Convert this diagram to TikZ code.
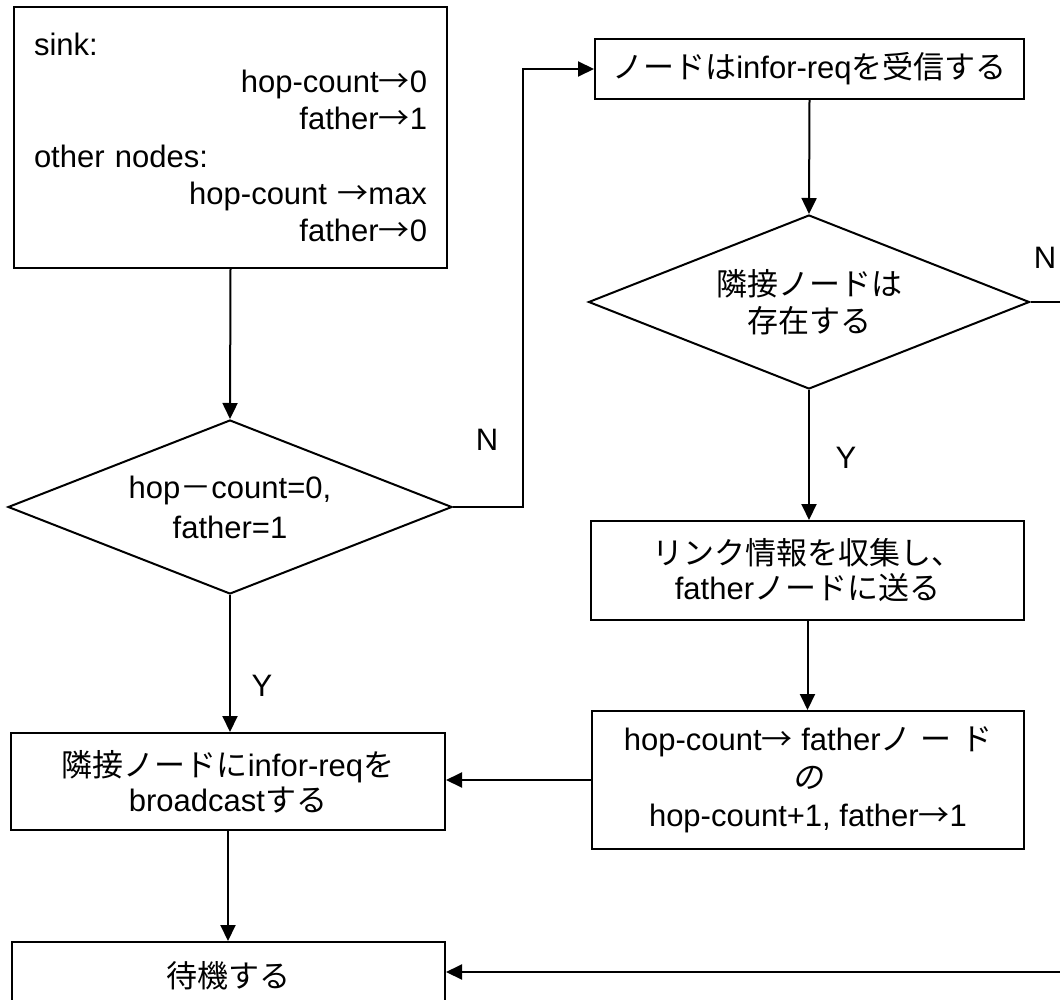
\documentclass[tikz,border=0pt]{standalone}
\usepackage{fontspec}
\setmainfont{Liberation Sans}
\newfontfamily\cjk{Noto Sans CJK JP}
\newfontfamily\cjkit[FakeSlant=0.2]{Noto Sans CJK JP}
\newcommand\J[1]{{\cjk #1}}
\usetikzlibrary{shapes.geometric,arrows.meta}
\begin{document}
\begin{tikzpicture}[x=1pt,y=-1pt,
  txt/.style={font=\fontsize{31}{37}\selectfont},
  box/.style={txt, draw, line width=2pt, align=center, inner sep=0pt},
  decision/.style={txt, draw, diamond, aspect=3, line width=2pt, align=center, inner sep=0pt},
  line/.style={line width=2pt},
  arr/.style={line width=2pt, -{Triangle[length=16pt,width=15pt]}},
  lab/.style={font=\fontsize{31}{36}\selectfont}
]
\clip (0,0) rectangle (1060,1000);
\fill[white] (0,0) rectangle (1060,1000);

\node[box, align=left, text width=393pt, inner xsep=20pt, minimum width=433pt, minimum height=261pt,
      font=\fontsize{31}{37.3}\selectfont] (init) at (230.5,137.5)
  {sink:\\
   \hspace*{\fill}hop-count\J{→}0\\
   \hspace*{\fill}father\J{→}1\\
   other nodes:\\
   \hspace*{\fill}hop-count \J{→}max\\
   \hspace*{\fill}father\J{→}0};

\node[decision, minimum width=444pt, minimum height=174pt, font=\fontsize{31}{40}\selectfont] (d1) at (230,507)
  {hop\J{－}count=0,\\father=1};

\node[box, minimum width=429pt, minimum height=60pt] (recv) at (809.5,69)
  {\J{ノードは}infor-req\J{を受信する}};

\node[decision, minimum width=441pt, minimum height=174pt] (d2) at (809,302)
  {\J{隣接ノードは}\\\J{存在する}};

\node[box, minimum width=433pt, minimum height=99pt, font=\fontsize{31}{35}\selectfont] (collect) at (807.5,570.5)
  {\J{リンク情報を収集し、}\\father\J{ノードに送る}};

\node[box, minimum width=432pt, minimum height=138pt, font=\fontsize{31}{38}\selectfont] (upd) at (808,780)
  {hop-count\J{→} father\J{ノ\hspace{0.3em}ー\hspace{0.3em}ド}\\{\cjkit の}\\hop-count+1, father\J{→}1};

\node[box, minimum width=434pt, minimum height=97pt, font=\fontsize{31}{35}\selectfont] (bcast) at (228,781.5)
  {\J{隣接ノードに}infor-req\J{を}\\broadcast\J{する}};

\node[box, minimum width=433pt, minimum height=80pt] (wait) at (228.5,982)
  {\raisebox{15pt}{\J{待機する}}};

\coordinate (eN) at (1060,302);
\coordinate (eW) at (1060,972);

\draw[arr] (init.south) -- (d1.north);
\draw[arr] (d1.east) -- ++(70,0) |- (recv.west);
\draw[arr] (recv.south) -- (d2.north);
\draw[line] (d2.east) -- (eN);
\draw[arr] (d2.south) -- (d2.south |- collect.north);
\draw[arr] (collect.south) -- (collect.south |- upd.north);
\draw[arr] (upd.west) -- (upd.west -| bcast.east);
\draw[arr] (d1.south) -- (d1.south |- bcast.north);
\draw[arr] (bcast.south) -- (bcast.south |- wait.north);
\draw[arr] (eW) -- (wait.east |- eW);

\node[lab] (n1) at (487,440) {N};
\node[lab] (y1) at (262,686) {Y};
\node[lab] (n2) at (1045,258) {N};
\node[lab] (y2) at (846,458) {Y};
\end{tikzpicture}
\end{document}
